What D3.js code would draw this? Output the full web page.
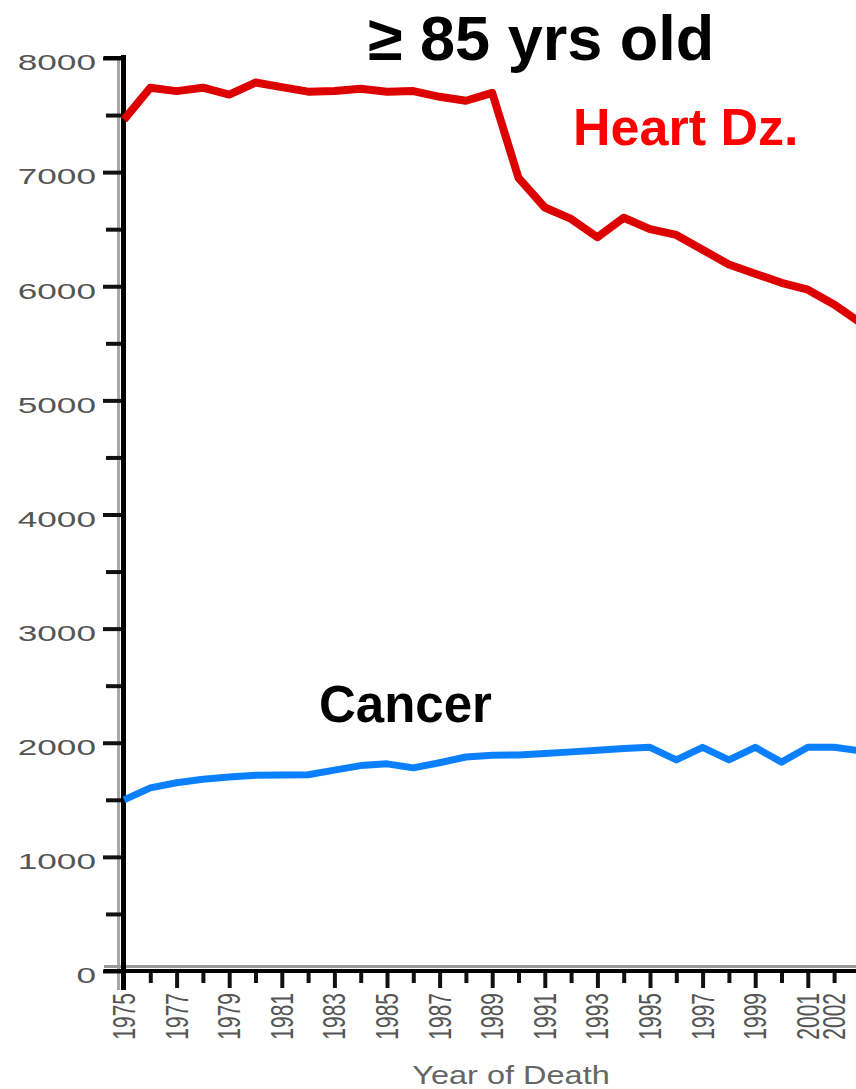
<!DOCTYPE html>
<html>
<head>
<meta charset="utf-8">
<script src="https://cdn.jsdelivr.net/npm/d3@7"></script>
<style>
  body { margin: 0; background: #fff; }
  svg { display: block; font-family: "Liberation Sans", Arial, sans-serif; }
</style>
</head>
<body>
<svg id="chart" width="856" height="1089"></svg>
<script>
// data (deaths per 100,000, age >= 85)
let years = [1975, 1976, 1977, 1978, 1979, 1980, 1981, 1982, 1983, 1984,
             1985, 1986, 1987, 1988, 1989, 1990, 1991, 1992, 1993, 1994,
             1995, 1996, 1997, 1998, 1999, 2000, 2001, 2002, 2003];
let heartDz = [7460, 7740, 7710, 7740, 7680, 7785, 7745, 7705, 7710, 7730,
               7705, 7710, 7660, 7625, 7695, 6950, 6690, 6590, 6430, 6600,
               6500, 6450, 6320, 6190, 6110, 6030, 5970, 5840, 5680];
let cancer = [1500, 1605, 1650, 1680, 1700, 1715, 1718, 1720, 1760, 1800,
              1815, 1780, 1825, 1875, 1890, 1893, 1905, 1920, 1935, 1950,
              1960, 1850, 1960, 1850, 1960, 1830, 1960, 1960, 1930];
let yTicks = [0, 1000, 2000, 3000, 4000, 5000, 6000, 7000, 8000];
let yMinor = [500, 1500, 2500, 3500, 4500, 5500, 6500, 7500];
let xLabels = [1975, 1977, 1979, 1981, 1983, 1985, 1987, 1989, 1991, 1993,
               1995, 1997, 1999, 2001, 2002];

let svg = d3.select("#chart");

// scales
let x = d3.scaleLinear().domain([1975, 2003]).range([124, 860.4]);
let y = d3.scaleLinear().domain([0, 8000]).range([971, 58]);

// axis shadows
svg.append("line").attr("x1", 118.5).attr("x2", 118.5).attr("y1", 56).attr("y2", 990)
   .attr("stroke", "#a8a8a8").attr("stroke-width", 3);
svg.append("line").attr("x1", 104).attr("x2", 856).attr("y1", 966.5).attr("y2", 966.5)
   .attr("stroke", "#999").attr("stroke-width", 3);

// y axis, major ticks with labels
let yAxis = svg.append("g")
  .attr("transform", "translate(124,0)")
  .call(d3.axisLeft(y).tickValues(yTicks).tickSize(21).tickPadding(0)
          .tickFormat(d3.format("d")));
yAxis.select(".domain").remove();
yAxis.selectAll(".tick line").attr("stroke", "#111").attr("stroke-width", 4);
yAxis.selectAll(".tick text")
  .attr("x", 0)
  .attr("dy", "0.4em")
  .attr("transform", "translate(-28,3) scale(1.6,1)")
  .attr("fill", "#555")
  .style("font-size", "22px")
  .style("font-family", "'Liberation Sans', Arial, sans-serif");

// y axis minor ticks
let yMinorAxis = svg.append("g")
  .attr("transform", "translate(124,0)")
  .call(d3.axisLeft(y).tickValues(yMinor).tickSize(18).tickFormat(""));
yMinorAxis.select(".domain").remove();
yMinorAxis.selectAll(".tick line").attr("stroke", "#111").attr("stroke-width", 4);

// x axis ticks (every year, long on odd years)
let xAxis = svg.append("g")
  .attr("transform", "translate(0,973)")
  .call(d3.axisBottom(x).tickValues(years.filter(d => d > 1975 && d < 2003))
          .tickSize(10).tickFormat(""));
xAxis.select(".domain").remove();
xAxis.selectAll(".tick line")
  .attr("y2", d => (d % 2 === 1) ? 15 : 10)
  .attr("stroke", "#111").attr("stroke-width", 4);

// x labels, rotated
svg.append("g").selectAll("text")
  .data(xLabels)
  .enter().append("text")
    .attr("transform", d => `translate(${x(d) + 11},993) scale(1.5,1) rotate(-90)`)
    .attr("text-anchor", "end")
    .attr("fill", "#555")
    .style("font-size", "21px")
    .text(d => d);

// main axis lines
svg.append("line").attr("x1", 123.5).attr("x2", 123.5).attr("y1", 55).attr("y2", 990)
   .attr("stroke", "#000").attr("stroke-width", 5);
svg.append("line").attr("x1", 104).attr("x2", 856).attr("y1", 971).attr("y2", 971)
   .attr("stroke", "#000").attr("stroke-width", 4);
svg.append("line").attr("x1", 104).attr("x2", 126).attr("y1", 58).attr("y2", 58)
   .attr("stroke", "#000").attr("stroke-width", 4);

// series
let line = d3.line().x((d, i) => x(years[i])).y(d => y(d));

svg.append("path")
  .datum(cancer)
  .attr("d", line)
  .attr("fill", "none")
  .attr("stroke", "#0a80ff")
  .attr("stroke-width", 7)
  .attr("stroke-linejoin", "round");

svg.append("path")
  .datum(heartDz)
  .attr("d", line)
  .attr("fill", "none")
  .attr("stroke", "#dd0000")
  .attr("stroke-width", 8)
  .attr("stroke-linejoin", "round");

// texts
svg.append("text")
  .attr("x", 368).attr("y", 60)
  .attr("font-weight", "bold")
  .style("font-size", "63px")
  .attr("fill", "#000")
  .text("≥ 85 yrs old");

svg.append("text")
  .attr("x", 573).attr("y", 145)
  .attr("font-weight", "bold")
  .style("font-size", "52px")
  .attr("fill", "#ff0000")
  .text("Heart Dz.");

svg.append("text")
  .attr("x", 319).attr("y", 722)
  .attr("font-weight", "bold")
  .style("font-size", "51px")
  .attr("fill", "#000")
  .text("Cancer");

svg.append("text")
  .attr("transform", "translate(511,1084) scale(1.3,1)")
  .attr("text-anchor", "middle")
  .attr("fill", "#666")
  .style("font-size", "25px")
  .text("Year of Death");
</script>
</body>
</html>
